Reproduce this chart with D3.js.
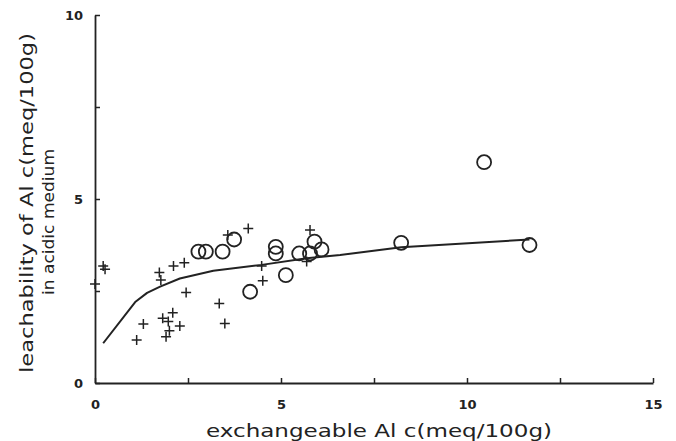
<!DOCTYPE html>
<html>
<head>
<meta charset="utf-8">
<script src="https://cdn.jsdelivr.net/npm/d3@7"></script>
<style>
  html, body { margin: 0; padding: 0; background: #fff; }
  svg { display: block; }
</style>
</head>
<body>
<svg id="chart" width="676" height="441"></svg>
<script>
// Exchangeable Al (x) vs. leachability of Al in acidic medium (y), c(meq/100g)
const crossX = [0.22, 0.27, 0.00, 1.73, 1.77, 2.11, 2.40, 2.45, 1.12, 1.30, 1.82, 2.09, 1.97, 1.91, 2.00, 2.28, 3.34, 3.49, 3.57, 4.12, 4.48, 4.51, 5.78, 5.69];
const crossY = [3.18, 3.09, 2.69, 3.00, 2.80, 3.18, 3.27, 2.46, 1.17, 1.60, 1.76, 1.91, 1.67, 1.26, 1.42, 1.55, 2.16, 1.62, 4.02, 4.20, 3.18, 2.78, 4.16, 3.30];

const circleX = [2.78, 2.98, 3.43, 3.74, 4.17, 4.86, 4.86, 5.13, 5.49, 5.78, 5.90, 6.09, 10.46, 8.23, 11.68];
const circleY = [3.57, 3.57, 3.57, 3.90, 2.48, 3.70, 3.52, 2.93, 3.52, 3.52, 3.84, 3.63, 6.00, 3.81, 3.75];

// fitted curve, read at its vertices
const fitX = [0.22, 1.08, 1.40, 1.75, 2.28, 3.18, 4.48, 5.69, 6.59, 8.23, 11.68];
const fitY = [1.08, 2.20, 2.45, 2.62, 2.84, 3.05, 3.21, 3.39, 3.48, 3.69, 3.90];

const xTicks = [0, 5, 10, 15];
const xMinorTicks = [2.5, 7.5, 12.5];
const yTicks = [0, 5, 10];
const yMinorTicks = [2.5, 7.5];

const xTitle = "exchangeable Al c(meq/100g)";
const yTitle1 = "leachability of Al c(meq/100g)";
const yTitle2 = "in acidic medium";

const ink = "#222";
const font = "'DejaVu Sans', 'Liberation Sans', sans-serif";
const svg = d3.select("#chart");

const x = d3.scaleLinear().domain([0, 15]).range([95, 653]);
const y = d3.scaleLinear().domain([0, 10]).range([383, 15]);

// axes: short inward ticks, labels only at whole fives
const xAxis = d3.axisBottom(x)
  .tickValues(xTicks.concat(xMinorTicks))
  .tickSizeInner(-5).tickSizeOuter(0).tickPadding(17)
  .tickFormat(d => xTicks.includes(d) ? String(d) : "");
const yAxis = d3.axisLeft(y)
  .tickValues(yTicks.concat(yMinorTicks))
  .tickSizeInner(-5).tickSizeOuter(0).tickPadding(12)
  .tickFormat(d => yTicks.includes(d) ? String(d) : "");

const gx = svg.append("g").attr("transform", `translate(0,${y(0)})`).call(xAxis);
const gy = svg.append("g").attr("transform", `translate(${x(0)},0)`).call(yAxis);

[gx, gy].forEach(g => {
  g.select(".domain").attr("stroke", ink).attr("stroke-width", 1.8);
  g.selectAll(".tick line").attr("stroke", ink).attr("stroke-width", 1.5);
  g.selectAll(".tick text")
    .attr("font-size", 13).attr("font-weight", "bold")
    .attr("font-family", font).attr("fill", ink);
});

// fitted curve
const pts = fitX.map((v, i) => [v, fitY[i]]);
svg.append("path")
  .attr("d", d3.line().x(d => x(d[0])).y(d => y(d[1])).curve(d3.curveLinear)(pts))
  .attr("fill", "none").attr("stroke", ink).attr("stroke-width", 2)
  .attr("stroke-linejoin", "round");

// open circles
svg.append("g").selectAll("circle").data(circleX.map((v, i) => [v, circleY[i]]))
  .join("circle")
  .attr("cx", d => x(d[0])).attr("cy", d => y(d[1])).attr("r", 7)
  .attr("fill", "none").attr("stroke", ink).attr("stroke-width", 1.8);

// crosses
const arm = 5;
svg.append("g").selectAll("path").data(crossX.map((v, i) => [v, crossY[i]]))
  .join("path")
  .attr("d", d => {
    const cx = x(d[0]), cy = y(d[1]);
    return `M${cx - arm},${cy}H${cx + arm}M${cx},${cy - arm}V${cy + arm}`;
  })
  .attr("fill", "none").attr("stroke", ink).attr("stroke-width", 1.5);

// axis titles
const titles = svg.append("g").attr("font-family", font).attr("fill", ink);
titles.append("text").attr("x", 206).attr("y", 437).attr("font-size", 18)
  .attr("textLength", 346).attr("lengthAdjust", "spacingAndGlyphs")
  .text(xTitle);
titles.append("text").attr("font-size", 18)
  .attr("transform", "translate(33,373) rotate(-90)")
  .attr("textLength", 340).attr("lengthAdjust", "spacingAndGlyphs")
  .text(yTitle1);
titles.append("text").attr("font-size", 16.5)
  .attr("transform", "translate(54,295) rotate(-90)")
  .attr("textLength", 146).attr("lengthAdjust", "spacingAndGlyphs")
  .text(yTitle2);
</script>
</body>
</html>
